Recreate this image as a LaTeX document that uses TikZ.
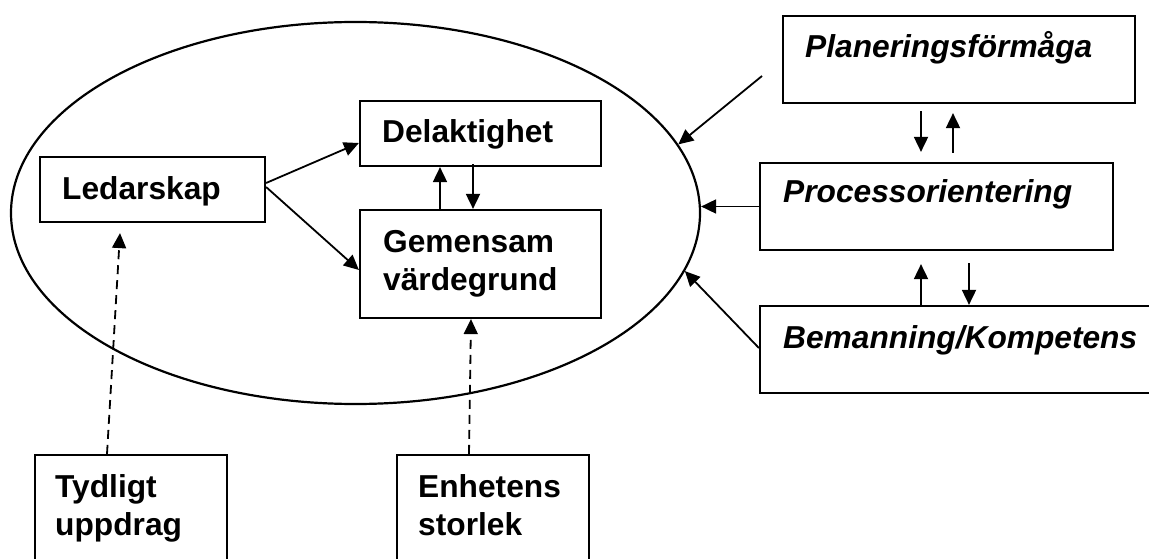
\documentclass[tikz,border=0pt]{standalone}
\usepackage{fontspec}
\setmainfont{Liberation Sans}
\usetikzlibrary{arrows.meta,shapes.geometric}
\begin{document}
\begin{tikzpicture}[x=1pt,y=-1pt,
  box/.style={draw,line width=2.2pt,rectangle,inner sep=0pt},
  lbl/.style={anchor=base west,inner sep=0pt,font=\fontsize{31.7}{38}\selectfont\bfseries,align=left},
  ilbl/.style={lbl,font=\fontsize{31.7}{38}\selectfont\bfseries\itshape},
  arr/.style={line width=1.8pt,-{Triangle[length=15pt,width=14pt]}},
  darr/.style={arr,dash pattern=on 9pt off 6pt}]
\clip (0,0) rectangle (1149,559);
\fill[white] (0,0) rectangle (1149,559);
% ellipse
\node[ellipse,draw,line width=2.2pt,minimum width=689pt,minimum height=382pt,inner sep=0pt] (ell) at (355.5,213) {};
% boxes
\node[box,minimum width=225pt,minimum height=65pt] (led) at (152.5,189.5) {};
\node[box,minimum width=241pt,minimum height=65pt] (del) at (480.5,133.5) {};
\node[box,minimum width=241pt,minimum height=108pt] (gem) at (480.5,264) {};
\node[box,minimum width=352pt,minimum height=87pt] (plan) at (959,59.5) {};
\node[box,minimum width=353pt,minimum height=87pt] (proc) at (936.5,206.5) {};
\node[box,minimum width=400pt,minimum height=87pt] (bem) at (960,349.5) {};
\node[box,minimum width=192pt,minimum height=130pt] (tyd) at (131,520) {};
\node[box,minimum width=192pt,minimum height=130pt] (enh) at (493,520) {};
% labels
\node[lbl] (tled) at (62,200) {Ledarskap};
\node[lbl] (tdel) at (382,143) {Delaktighet};
\node[lbl] (tgem) at (383,290) {Gemensam\\värdegrund};
\node[ilbl] (tplan) at (805,58) {Planeringsförmåga};
\node[ilbl] (tproc) at (783,203) {Processorientering};
\node[ilbl] (tbem) at (783,348) {Bemanning/Kompetens};
\node[lbl] (ttyd) at (55,535) {Tydligt\\uppdrag};
\node[lbl] (tenh) at (418,535) {Enhetens\\storlek};
% connectors
\draw[arr] ([yshift=6.5pt]led.east) -- ([yshift=-9.5pt]del.west);
\draw[arr] ([yshift=2.5pt]led.east) -- ([yshift=-6pt]gem.west);
\draw[arr] ([xshift=-40.5pt]gem.north) -- ([xshift=-40.5pt]del.south);
\draw[arr] ([xshift=-7.5pt,yshift=3pt]del.south) -- ([xshift=-7.5pt]gem.north);
\coordinate (pstart) at (762,76);
\draw[arr] (pstart) -- (ell.12.6);
\draw[arr] (proc.west) -- (proc.west -| ell.east);
\draw[arr] ([yshift=1.5pt]bem.west) -- (ell.-10.4);
\draw[arr] ([xshift=-38pt,yshift=-7pt]plan.south) -- ([xshift=-15.5pt,yshift=10pt]proc.north);
\draw[arr] ([xshift=16.5pt,yshift=9pt]proc.north) -- ([xshift=-6pt,yshift=-9pt]plan.south);
\draw[arr] ([xshift=-39pt]bem.north) -- ([xshift=-15.5pt,yshift=-13pt]proc.south);
\draw[arr] ([xshift=32.5pt,yshift=-12pt]proc.south) -- ([xshift=9pt]bem.north);
\draw[darr] ([xshift=-24pt]tyd.north) -- ([xshift=-32.5pt,yshift=-10pt]led.south);
\draw[darr] ([xshift=-24pt]enh.north) -- ([xshift=-9.5pt]gem.south);
\end{tikzpicture}
\end{document}
